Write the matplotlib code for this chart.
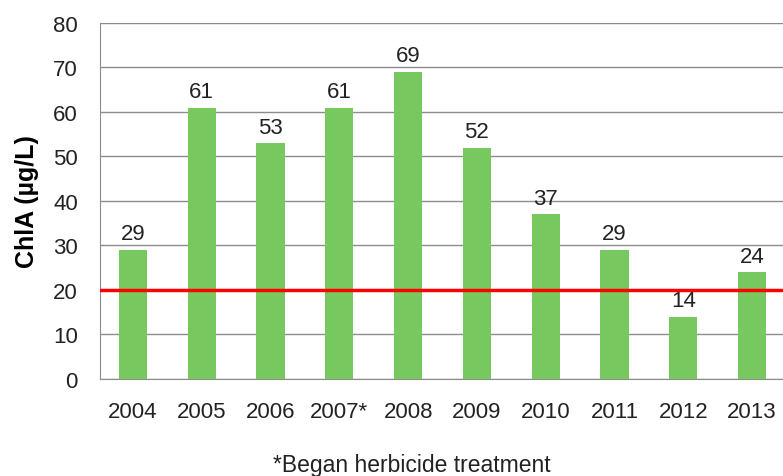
import matplotlib.pyplot as plt
import numpy as np

plt.rcParams['font.family'] = ['Liberation Sans', 'DejaVu Sans']

# Data
years = ['2004', '2005', '2006', '2007*', '2008', '2009', '2010', '2011', '2012', '2013']
chla = [29, 61, 53, 61, 69, 52, 37, 29, 14, 24]
target = 20

fig = plt.figure(figsize=(7.83, 4.77), dpi=100)
ax = fig.add_axes([0.1277, 0.2034, 0.8723, 0.7463])

x = np.arange(len(years))
ax.bar(x, chla, width=0.41, color='#77c95f', zorder=3)
for xi, v in zip(x, chla):
    ax.annotate(str(v), (xi, v), xytext=(0, 4), textcoords='offset points',
                ha='center', va='bottom', fontsize=16, color='#222222', zorder=4)

ax.axhline(target, color='#ff0000', linewidth=2.5, zorder=5)

ax.set_ylim(0, 80)
ax.set_yticks(range(0, 81, 10))
ax.set_xlim(-0.48, 9.45)
ax.set_xticks(x)
ax.set_xticklabels(years)
ax.tick_params(axis='both', length=0, labelsize=16, colors='#222222')
ax.tick_params(axis='y', pad=16)
ax.tick_params(axis='x', pad=16)
ax.grid(axis='y', color='#8c8c8c', linewidth=1, zorder=0)
for s in ['top', 'right']:
    ax.spines[s].set_visible(False)
for s in ['left', 'bottom']:
    ax.spines[s].set_color('#8c8c8c')
ax.set_ylabel('ChlA (µg/L)', fontsize=18, fontweight='bold')
ax.yaxis.set_label_coords(-0.089, 0.5)

fig.text(0.5255, 0.025, '*Began herbicide treatment', ha='center', va='center',
         fontsize=16.5, color='#222222')

fig.savefig('out.png', dpi=100)
